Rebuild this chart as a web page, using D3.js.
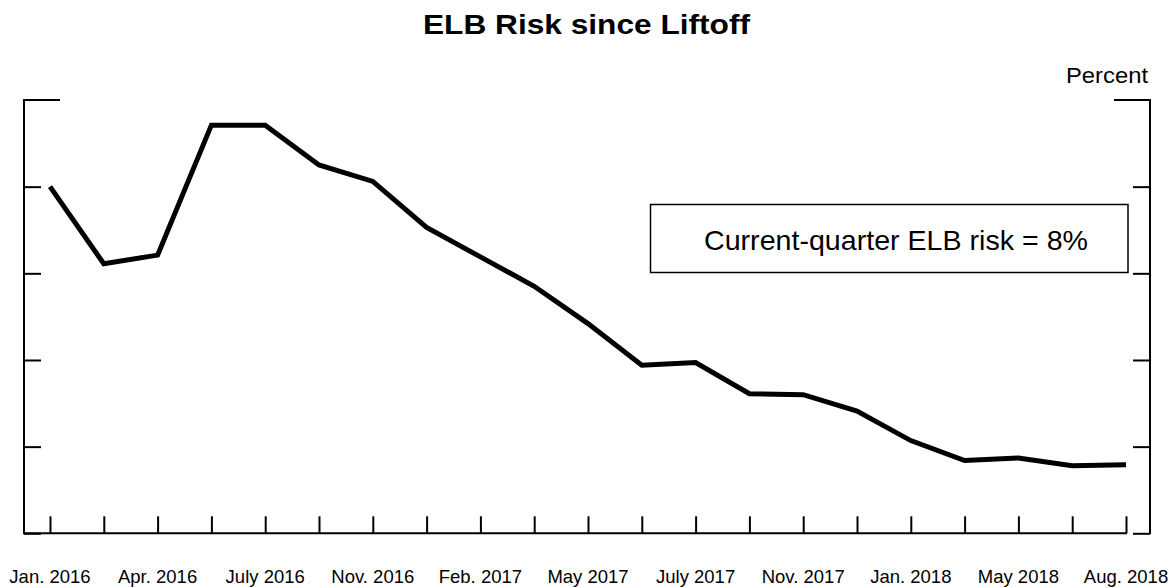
<!DOCTYPE html>
<html>
<head>
<meta charset="utf-8">
<script src="https://cdn.jsdelivr.net/npm/d3@7"></script>
<style>
  html, body { margin: 0; padding: 0; background: #fff; }
  svg { display: block; font-family: "Liberation Sans", Arial, Helvetica, sans-serif; }
</style>
</head>
<body>
<svg id="chart" width="1171" height="587"></svg>
<script>
// FOMC meetings since liftoff
const meetings = ["Jan. 2016","Mar. 2016","Apr. 2016","June 2016","July 2016","Sep. 2016","Nov. 2016","Dec. 2016",
                  "Feb. 2017","Mar. 2017","May 2017","June 2017","July 2017","Sep. 2017","Nov. 2017","Dec. 2017",
                  "Jan. 2018","Mar. 2018","May 2018","June 2018","Aug. 2018"];
// ELB risk, percent
const elbRisk = [40.0, 31.1, 32.1, 47.1, 47.1, 42.5, 40.6, 35.3, 31.9, 28.5, 24.2,
                 19.4, 19.7, 16.1, 16.0, 14.1, 10.7, 8.4, 8.7, 7.8, 7.9];
const labeledMeetings = ["Jan. 2016","Apr. 2016","July 2016","Nov. 2016","Feb. 2017","May 2017",
                         "July 2017","Nov. 2017","Jan. 2018","May 2018","Aug. 2018"];
const yTicks = [0, 10, 20, 30, 40, 50];
const titleText = "ELB Risk since Liftoff";
const unitText = "Percent";
const boxText = "Current-quarter ELB risk = 8%";

const svg = d3.select("#chart");
const plotLeft = 24, plotRight = 1150, plotTop = 100, plotBottom = 533.3;

const x = d3.scalePoint().domain(meetings).range([50, 1126]);
const y = d3.scaleLinear().domain([0, 50]).range([plotBottom, plotTop]);

// Title
svg.append("text").attr("x", 586.5).attr("y", 33.5).attr("text-anchor", "middle")
  .attr("font-size", 28).attr("font-weight", "bold").attr("textLength", 327)
  .attr("lengthAdjust", "spacingAndGlyphs").text(titleText);

// Unit label
svg.append("text").attr("x", 1148).attr("y", 83).attr("text-anchor", "end")
  .attr("font-size", 22).attr("textLength", 82).attr("lengthAdjust", "spacingAndGlyphs").text(unitText);

// Side axes (ticks inward, no labels)
const yAxisL = d3.axisRight(y).tickValues(yTicks.slice(0, -1)).tickSize(17).tickFormat("");
const gL = svg.append("g").attr("transform", `translate(${plotLeft},0)`).call(yAxisL);
const yAxisR = d3.axisLeft(y).tickValues(yTicks.slice(0, -1)).tickSize(17).tickFormat("");
const gR = svg.append("g").attr("transform", `translate(${plotRight},0)`).call(yAxisR);
[gL, gR].forEach(g => {
  g.select(".domain").remove();
  g.selectAll("line").attr("stroke", "#000").attr("stroke-width", 2);
});
// vertical frame lines
svg.append("line").attr("x1", plotLeft).attr("x2", plotLeft).attr("y1", y(50) - 1).attr("y2", plotBottom + 1)
  .attr("stroke", "#000").attr("stroke-width", 2);
svg.append("line").attr("x1", plotRight).attr("x2", plotRight).attr("y1", y(50) - 1).attr("y2", plotBottom + 1)
  .attr("stroke", "#000").attr("stroke-width", 2);
// top ticks (longer)
svg.append("line").attr("x1", plotLeft).attr("x2", plotLeft + 36).attr("y1", y(50)).attr("y2", y(50))
  .attr("stroke", "#000").attr("stroke-width", 2);
svg.append("line").attr("x1", plotRight - 36).attr("x2", plotRight).attr("y1", y(50)).attr("y2", y(50))
  .attr("stroke", "#000").attr("stroke-width", 2);

// Bottom axis
const xAxis = d3.axisTop(x).tickSize(17).tickFormat("");
const gX = svg.append("g").attr("transform", `translate(0,${plotBottom})`).call(xAxis);
gX.select(".domain").remove();
gX.selectAll("line").attr("stroke", "#000").attr("stroke-width", 2);
svg.append("line").attr("x1", plotLeft).attr("x2", 1127).attr("y1", plotBottom).attr("y2", plotBottom)
  .attr("stroke", "#000").attr("stroke-width", 2);

// Tick labels
svg.append("g").selectAll("text").data(labeledMeetings).join("text")
  .attr("x", d => x(d)).attr("y", 583).attr("text-anchor", "middle")
  .attr("font-size", 18.5).text(d => d);

// Line
const line = d3.line().x((d, i) => x(meetings[i])).y(d => y(d));
svg.append("path").datum(elbRisk).attr("d", line).attr("fill", "none")
  .attr("stroke", "#000").attr("stroke-width", 5).attr("stroke-linejoin", "miter");

// Annotation box
svg.append("rect").attr("x", 650.5).attr("y", 204.5).attr("width", 477.5).attr("height", 68)
  .attr("fill", "#fff").attr("stroke", "#000").attr("stroke-width", 1.5);
svg.append("text").attr("x", 704).attr("y", 250).attr("font-size", 28)
  .attr("textLength", 384).attr("lengthAdjust", "spacingAndGlyphs").text(boxText);
</script>
</body>
</html>
